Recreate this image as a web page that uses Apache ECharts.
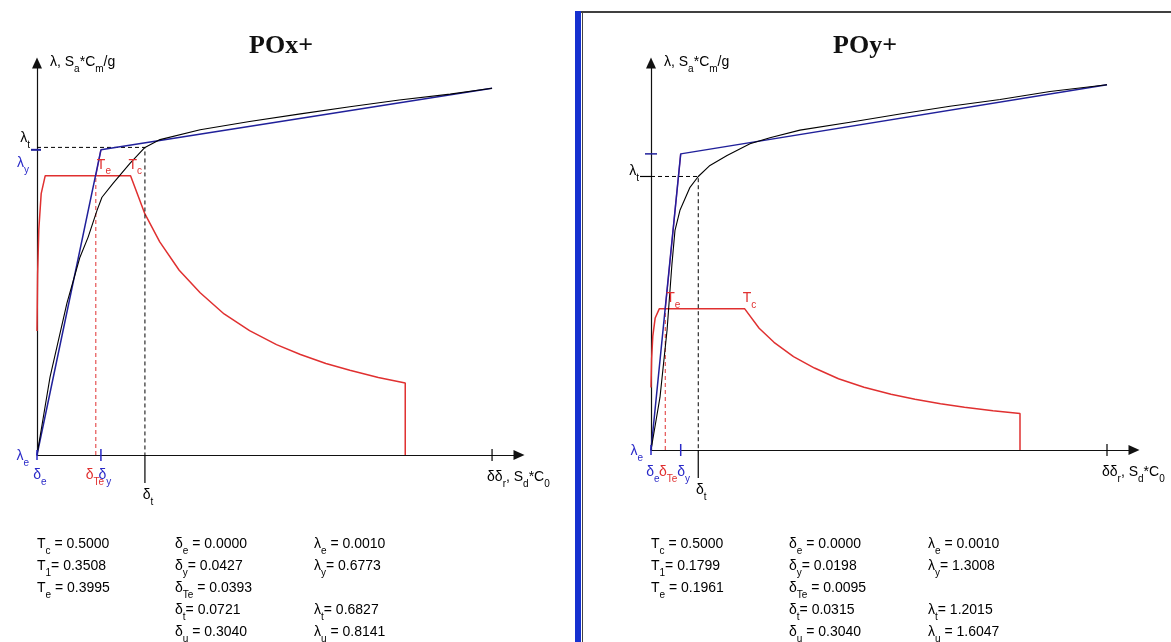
<!DOCTYPE html>
<html>
<head>
<meta charset="utf-8">
<script src="https://cdn.jsdelivr.net/npm/echarts@6/dist/echarts.min.js"></script>
<style>
  html, body { margin: 0; padding: 0; background: #fff; }
  #main { width: 1171px; height: 642px; }
</style>
</head>
<body>
<div id="main"></div>
<script>
// results of the two pushover analyses
var resX = { Tc: 0.5000, T1: 0.3508, Te: 0.3995, de: 0.0000, dy: 0.0427, dTe: 0.0393, dt: 0.0721, du: 0.3040, le: 0.0010, ly: 0.6773, lt: 0.6827, lu: 0.8141 };
var resY = { Tc: 0.5000, T1: 0.1799, Te: 0.1961, de: 0.0000, dy: 0.0198, dTe: 0.0095, dt: 0.0315, du: 0.3040, le: 0.0010, ly: 1.3008, lt: 1.2015, lu: 1.6047 };

// capacity curves [delta, lambda]
var capacityX = [[0, 0], [0.0087, 0.173], [0.0200, 0.337], [0.0287, 0.439], [0.0341, 0.483], [0.0401, 0.543], [0.0434, 0.572], [0.0508, 0.603], [0.0621, 0.647], [0.0721, 0.6827], [0.0822, 0.700], [0.109, 0.722], [0.142, 0.740], [0.176, 0.757], [0.209, 0.773], [0.242, 0.788], [0.276, 0.801], [0.304, 0.8141]];
var capacityY = [[0, 0], [0.0060, 0.232], [0.0107, 0.526], [0.0140, 0.820], [0.0160, 0.965], [0.0193, 1.053], [0.0260, 1.154], [0.0315, 1.2015], [0.0393, 1.250], [0.0507, 1.294], [0.066, 1.345], [0.0793, 1.372], [0.0993, 1.405], [0.1327, 1.440], [0.166, 1.476], [0.1993, 1.510], [0.2327, 1.540], [0.266, 1.575], [0.304, 1.6047]];

// elastic spectrum in AD format (same for both directions)
var spectrum = [[0, 0.275], [0.0004, 0.40], [0.0012, 0.50], [0.0028, 0.58], [0.0055, 0.62], [0.0625, 0.62], [0.0721, 0.535], [0.082, 0.473], [0.095, 0.41], [0.109, 0.36], [0.125, 0.313], [0.142, 0.276], [0.16, 0.245], [0.176, 0.223], [0.193, 0.203], [0.209, 0.188], [0.228, 0.172], [0.246, 0.16], [0.246, 0]];
var plateau = 0.62;
var plateauEnd = 0.0625;

var titles = ['POx+', 'POy+'];
var results = [resX, resY];
var capacities = [capacityX, capacityY];
var xMax = 0.322;
var yMax = [0.87, 1.70];

var FONT = "'Liberation Sans', Arial, sans-serif";
var BLACK = '#000', BLUE = '#2a2ac8', RED = '#e03030', NAVY = '#20209a';

var grids = [
  { left: 37, top: 63, width: 482, height: 392 },
  { left: 651, top: 63, width: 483, height: 387 }
];

function makeRich(size) {
  var rich = {};
  [['', BLACK], ['b', BLUE], ['r', RED]].forEach(function (c) {
    rich[c[0] + 'n'] = { fontSize: size, lineHeight: size + 2, verticalAlign: 'top', fill: c[1], fontFamily: FONT };
    rich[c[0] + 's'] = { fontSize: size - 4, lineHeight: size + 5, verticalAlign: 'bottom', fill: c[1], fontFamily: FONT };
  });
  return rich;
}
var rich14 = makeRich(14);

function sym(p, main, sub, rest) {
  return '{' + p + 'n|' + main + '}{' + p + 's|' + sub + '}' + (rest ? '{' + p + 'n|' + rest + '}' : '');
}

var chart = echarts.init(document.getElementById('main'));

function line(gi, data, color, width, type, z) {
  return {
    type: 'line', xAxisIndex: gi, yAxisIndex: gi, data: data, symbol: 'none',
    silent: true, clip: false, z: z || 2,
    lineStyle: { color: color, width: width, type: type || 'solid' }
  };
}

var series = [];
results.forEach(function (r, i) {
  series.push(line(i, spectrum, RED, 1.5));
  series.push(line(i, [[r.dTe, 0], [r.dTe, plateau]], RED, 1, [4, 3]));
  series.push(line(i, [[r.dTe, plateau], [r.dy, r.ly]], '#cc3399', 1.3));
  series.push(line(i, [[0, r.lt], [r.dt, r.lt], [r.dt, 0]], BLACK, 1, [4, 3]));
  series.push(line(i, [[0, 0], [r.dy, r.ly], [r.du, r.lu]], NAVY, 1.5, 'solid', 3));
  series.push(line(i, capacities[i], BLACK, 1.1, 'solid', 4));
});

function axisCommon(i, max) {
  return {
    gridIndex: i, type: 'value', min: 0, max: max,
    axisLine: { show: true, onZero: false, symbol: ['none', 'triangle'], symbolSize: [10, 11], lineStyle: { color: '#111', width: 1.2 } },
    axisTick: { show: false }, axisLabel: { show: false }, splitLine: { show: false }
  };
}

chart.setOption({
  animation: false,
  backgroundColor: '#fff',
  title: titles.map(function (t, i) {
    return { text: t, left: i === 0 ? 276 : 860, top: 28, textAlign: 'center',
      textStyle: { fontFamily: "'Liberation Serif', 'DejaVu Serif', serif", fontWeight: 'bold', fontSize: 26, color: '#111' } };
  }),
  grid: grids,
  xAxis: grids.map(function (g, i) { return axisCommon(i, xMax); }),
  yAxis: grids.map(function (g, i) { return axisCommon(i, yMax[i]); }),
  series: series
});

// labels, ticks and the table, placed through the axes' scales
function txt(x, cy, text, align) {
  return { type: 'text', x: x, y: cy - 6, silent: true, z: 10,
    style: { text: text, rich: rich14, align: align || 'left', verticalAlign: 'top', font: '14px ' + FONT } };
}
function tick(x1, y1, x2, y2, color, w) {
  return { type: 'line', silent: true, z: 10, shape: { x1: x1, y1: y1, x2: x2, y2: y2 }, style: { stroke: color, lineWidth: w || 1.2 } };
}

var g = [];
g.push({ type: 'rect', silent: true, shape: { x: 575, y: 11, width: 6, height: 631 }, style: { fill: '#1530d0' } });
g.push(tick(581, 12, 1171, 12, '#000', 1.5));
g.push(tick(582.5, 12, 582.5, 642, '#444', 1));

results.forEach(function (r, i) {
  var P = function (v) { return chart.convertToPixel({ gridIndex: i }, v); };
  var o = P([0, 0]);
  var xd = function (d) { return P([d, 0])[0]; };
  var yl = function (l) { return P([0, l])[1]; };

  // axis names
  g.push(txt(o[0] + 13, 61, '{n|λ, S}{s|a}{n|*C}{s|m}{n|/g}'));
  g.push(txt(xd(r.du) - 5, o[1] + 21, '{n|δδ}{s|r}{n|, S}{s|d}{n|*C}{s|0}'));

  // ticks on the x axis
  g.push(tick(xd(0), o[1] - 5, xd(0), o[1] + 5, BLUE, 1.5));
  g.push(tick(xd(r.dy), o[1] - 6, xd(r.dy), o[1] + 6, BLUE, 1.5));
  g.push(tick(xd(r.du), o[1] - 6, xd(r.du), o[1] + 6, BLACK, 1.2));
  g.push(tick(xd(r.dt), o[1], xd(r.dt), o[1] + 28, BLACK, 1.2));

  // labels on the x axis
  g.push(txt(o[0] - 8, o[1], sym('b', 'λ', 'e'), 'right'));
  g.push(txt(xd(r.dt) + 3, o[1] + 39, sym('', 'δ', 't'), 'center'));

  if (i === 0) {
    g.push(txt(xd(0) + 3, o[1] + 19, sym('b', 'δ', 'e'), 'center'));
    g.push(txt(xd(r.dTe) - 1, o[1] + 19, sym('r', 'δ', 'Te'), 'center'));
    g.push(txt(xd(r.dy) + 4, o[1] + 19, sym('b', 'δ', 'y'), 'center'));
    g.push(tick(o[0] - 6, yl(r.ly), o[0] + 4, yl(r.ly), NAVY, 2));
    g.push(txt(o[0] - 7, yl(r.lt) - 10, sym('', 'λ', 't'), 'right'));
    g.push(txt(o[0] - 8, yl(r.ly) + 12, sym('b', 'λ', 'y'), 'right'));
  } else {
    g.push(txt(xd(0) + 2, o[1] + 21, sym('b', 'δ', 'e'), 'center'));
    g.push(txt(xd(r.dTe) + 3, o[1] + 21, sym('r', 'δ', 'Te'), 'center'));
    g.push(txt(xd(r.dy) + 3, o[1] + 21, sym('b', 'δ', 'y'), 'center'));
    g.push(tick(o[0] - 6, yl(r.ly), o[0] + 6, yl(r.ly), NAVY, 1.5));
    g.push(tick(o[0] - 11, yl(r.lt), o[0], yl(r.lt), BLACK, 1.2));
    g.push(txt(o[0] - 12, yl(r.lt) - 6, sym('', 'λ', 't'), 'right'));
  }

  // period labels on the spectrum
  g.push(txt(xd(r.dTe) + 1, yl(plateau) - 12, sym('r', 'T', 'e'), 'left'));
  g.push(txt(xd(plateauEnd) - 2, yl(plateau) - 12, sym('r', 'T', 'c'), 'left'));

  // result table
  var rows = [543, 565, 587, 609, 631];
  var c1 = o[0], c2 = o[0] + 138, c3 = o[0] + 277;
  var f = function (v) { return v.toFixed(4); };
  g.push(txt(c1, rows[0], sym('', 'T', 'c', ' = ' + f(r.Tc))));
  g.push(txt(c1, rows[1], sym('', 'T', '1', '= ' + f(r.T1))));
  g.push(txt(c1, rows[2], sym('', 'T', 'e', ' = ' + f(r.Te))));
  g.push(txt(c2, rows[0], sym('', 'δ', 'e', ' = ' + f(r.de))));
  g.push(txt(c2, rows[1], sym('', 'δ', 'y', '= ' + f(r.dy))));
  g.push(txt(c2, rows[2], sym('', 'δ', 'Te', ' = ' + f(r.dTe))));
  g.push(txt(c2, rows[3], sym('', 'δ', 't', '= ' + f(r.dt))));
  g.push(txt(c2, rows[4], sym('', 'δ', 'u', ' = ' + f(r.du))));
  g.push(txt(c3, rows[0], sym('', 'λ', 'e', ' = ' + f(r.le))));
  g.push(txt(c3, rows[1], sym('', 'λ', 'y', '= ' + f(r.ly))));
  g.push(txt(c3, rows[3], sym('', 'λ', 't', '= ' + f(r.lt))));
  g.push(txt(c3, rows[4], sym('', 'λ', 'u', ' = ' + f(r.lu))));
});

chart.setOption({ graphic: g });
</script>
</body>
</html>
